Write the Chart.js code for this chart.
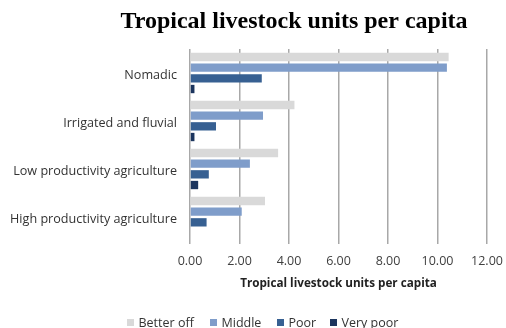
<!DOCTYPE html>
<html>
<head>
<meta charset="utf-8">
<title>Tropical livestock units per capita</title>
<script src="https://cdn.jsdelivr.net/npm/chart.js"></script>
<style>
  html, body { margin: 0; padding: 0; background: #fff; }
  #wrap { width: 506px; height: 328px; }
</style>
</head>
<body>
<div id="wrap"><canvas id="tlu" width="506" height="328"></canvas></div>
<script>
// livelihood zones and wealth groups
const zones = ['Nomadic', 'Irrigated and fluvial', 'Low productivity agriculture', 'High productivity agriculture'];
const betterOff = [10.45, 4.22, 3.56, 3.03];
const middle = [10.38, 2.95, 2.42, 2.09];
const poor = [2.90, 1.05, 0.76, 0.67];
const veryPoor = [0.18, 0.18, 0.33, 0];
const xTicks = [0, 2, 4, 6, 8, 10, 12];

const groups = [
  { label: 'Better off', data: betterOff, color: '#d9d9d9' },
  { label: 'Middle', data: middle, color: '#7f9dca' },
  { label: 'Poor', data: poor, color: '#376092' },
  { label: 'Very poor', data: veryPoor, color: '#1c355e' }
];

const font = '"Open Sans", "Liberation Sans", sans-serif';

// title and legend are placed by hand
const decor = {
  id: 'decor',
  afterDraw(chart) {
    const ctx = chart.ctx;
    ctx.save();
    ctx.fillStyle = '#000';
    ctx.font = 'bold 24px "Liberation Serif", "Times New Roman", serif';
    ctx.textAlign = 'center';
    ctx.textBaseline = 'alphabetic';
    ctx.fillText('Tropical livestock units per capita', 294, 28);

    const legendX = [127, 210, 277, 330];
    ctx.font = '12.5px ' + font;
    ctx.textAlign = 'left';
    ctx.textBaseline = 'middle';
    chart.data.datasets.forEach((ds, i) => {
      ctx.fillStyle = ds.backgroundColor;
      ctx.fillRect(legendX[i], 319, 7, 7);
      ctx.fillStyle = '#333';
      ctx.fillText(ds.label, legendX[i] + 11.5, 323);
    });
    ctx.restore();
  }
};

new Chart(document.getElementById('tlu'), {
  type: 'bar',
  data: {
    labels: zones,
    datasets: groups.map(g => ({
      label: g.label,
      data: g.data,
      backgroundColor: g.color,
      borderWidth: 0,
      categoryPercentage: 0.89,
      barPercentage: 0.78
    }))
  },
  options: {
    indexAxis: 'y',
    responsive: false,
    animation: false,
    layout: { padding: { top: 49, right: 19, bottom: 37, left: 0 } },
    plugins: {
      legend: { display: false },
      title: { display: false },
      tooltip: { enabled: false }
    },
    scales: {
      x: {
        min: 0,
        max: 12,
        afterFit(scale) {
          scale.height = 50;
          scale.paddingLeft = 0;
          scale.paddingRight = 0;
        },
        afterBuildTicks(scale) { scale.ticks = xTicks.map(v => ({ value: v })); },
        ticks: {
          padding: 10,
          color: '#404040',
          font: { family: font, size: 12.5 },
          callback: v => Number(v).toFixed(2)
        },
        grid: { color: '#a8a8a8', lineWidth: 1.5, tickLength: 3 },
        border: { display: false },
        title: {
          display: true,
          text: 'Tropical livestock units per capita',
          color: '#222',
          font: { family: font, size: 11.7, weight: 'bold' },
          padding: { top: 4, bottom: 0 }
        }
      },
      y: {
        afterFit(scale) { scale.width = 190; },
        grid: { display: false, drawTicks: false },
        border: { display: false },
        ticks: {
          padding: 13,
          labelOffset: 2,
          color: '#333',
          font: { family: font, size: 12.6 }
        }
      }
    }
  },
  plugins: [decor]
});
</script>
</body>
</html>
